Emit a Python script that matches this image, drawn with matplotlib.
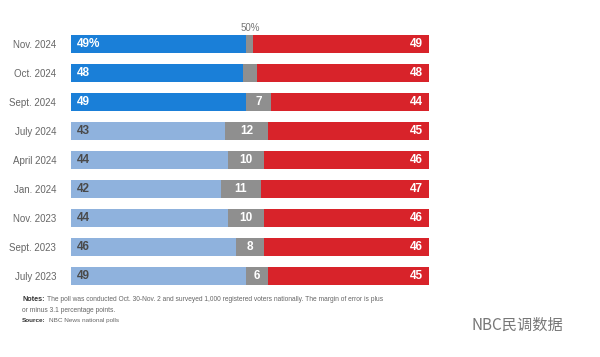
import matplotlib.pyplot as plt

polls = ["Nov. 2024", "Oct. 2024", "Sept. 2024", "July 2024", "April 2024",
         "Jan. 2024", "Nov. 2023", "Sept. 2023", "July 2023"]
harris = [49, 48, 49, 43, 44, 42, 44, 46, 49]
other = [2, 4, 7, 12, 10, 11, 10, 8, 6]
trump = [49, 48, 44, 45, 46, 47, 46, 46, 45]

plt.rcParams['font.family'] = ['Liberation Sans', 'DejaVu Sans']

fig = plt.figure(figsize=(6, 3.57), dpi=100)
ax = fig.add_axes([0.118, 0.186, 0.597, 0.731])

y = list(range(len(polls)))
blue = ["#1a7fd8" if i < 3 else "#8fb2dd" for i in y]
left2 = [h + o for h, o in zip(harris, other)]
ax.barh(y, harris, color=blue, height=0.6)
ax.barh(y, other, left=harris, color="#8f8f8f", height=0.6)
ax.barh(y, trump, left=left2, color="#d8232a", height=0.6)

for i in y:
    lab = str(harris[i]) + ("%" if i == 0 else "")
    ax.text(1.8, i, lab, color="white" if i < 3 else "#4a4a4a", fontsize=8.5,
            fontweight="bold", va="center", ha="left")
    if other[i] >= 6:
        ax.text(harris[i] + other[i] / 2, i, str(other[i]), color="white",
                fontsize=8.5, fontweight="bold", va="center", ha="center")
    ax.text(98.2, i, str(trump[i]), color="white", fontsize=8.5,
            fontweight="bold", va="center", ha="right")

ax.set_xlim(0, 100)
ax.set_ylim(len(polls) - 0.5, -0.5)
ax.set_yticks(y)
ax.set_yticklabels(polls, fontsize=7, color="#666666")
ax.tick_params(left=False, bottom=False, labelbottom=False, pad=7)
for s in ax.spines.values():
    s.set_visible(False)

ax.text(50, -0.4, "50%", ha="center", va="bottom", fontsize=7, color="#777777")

fig.text(0.037, 0.158, "Notes:", fontsize=5.2, fontweight="bold", color="#333333")
fig.text(0.078, 0.158, "The poll was conducted Oct. 30-Nov. 2 and surveyed 1,000 registered voters nationally. "
         "The margin of error is plus", fontsize=4.8, color="#666666")
fig.text(0.037, 0.127, "or minus 3.1 percentage points.", fontsize=4.8, color="#666666")
fig.text(0.037, 0.097, "Source:", fontsize=4.6, fontweight="bold", color="#333333")
fig.text(0.081, 0.097, "NBC News national polls", fontsize=4.6, color="#666666")

fig.text(0.862, 0.075, "NBC民调数据", fontsize=11, color="#777777", ha="center",
         family=["Noto Sans CJK SC", "DejaVu Sans"])

fig.savefig("out.png", dpi=100)
